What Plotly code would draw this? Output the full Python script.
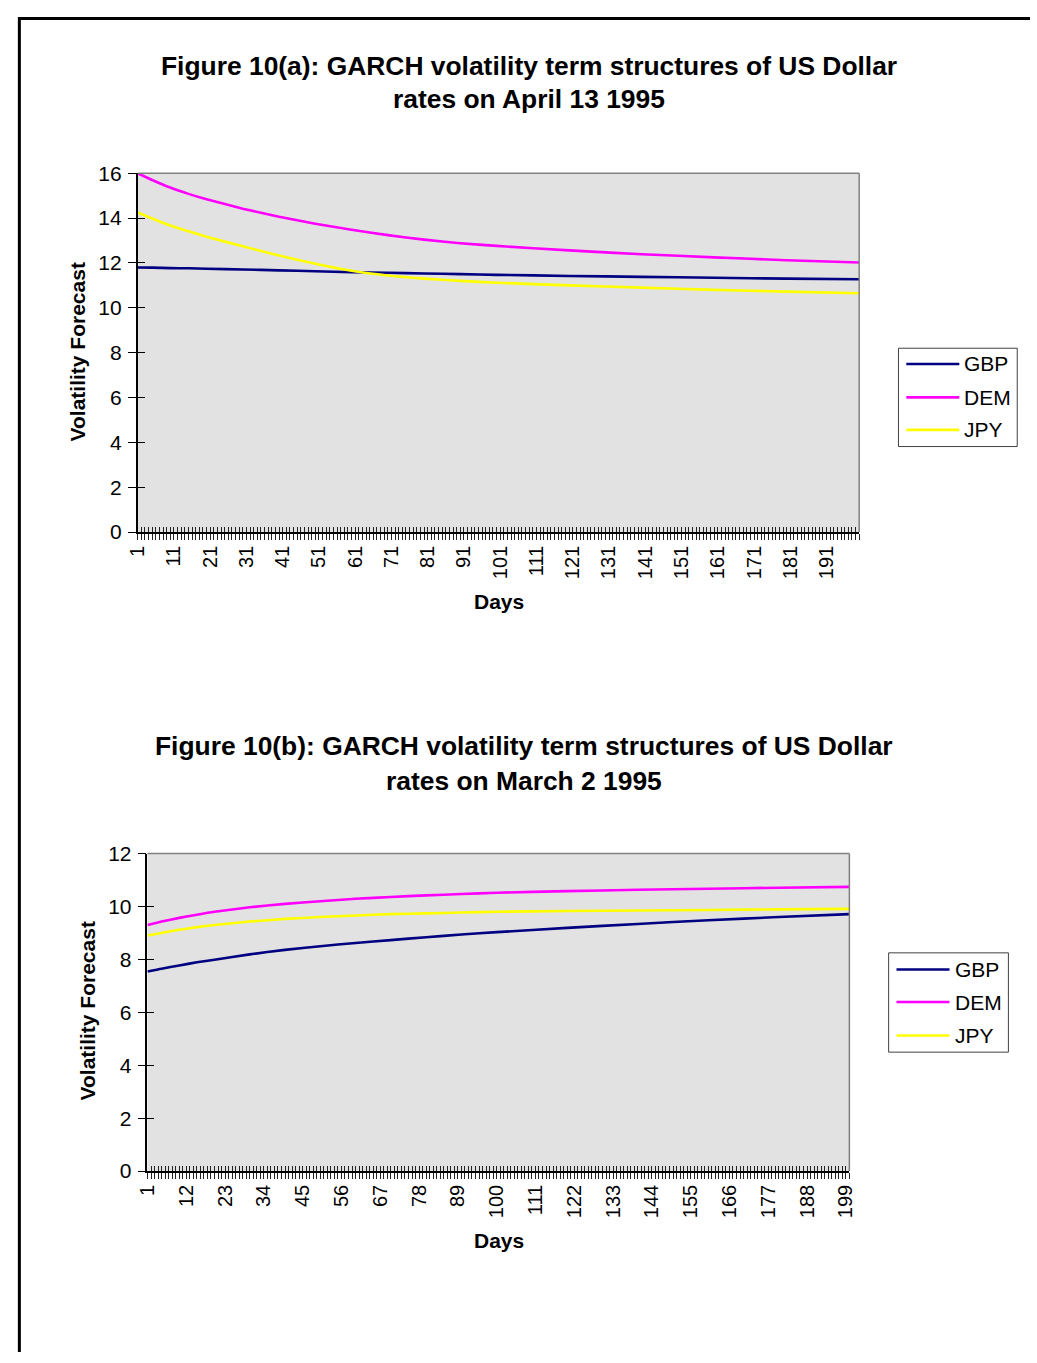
import plotly.graph_objects as go

W, H = 1037, 1363          # picture size

# ---------------- data ----------------
series_names = ["GBP", "DEM", "JPY"]
series_colors = ["#000080", "#FF00FF", "#FFFF00"]

days_a = [1, 5, 10, 15, 20, 30, 40, 50, 60, 70, 80, 90, 100, 120, 140, 160, 180, 200]
gbp_a = [11.80, 11.79, 11.77, 11.76, 11.74, 11.71, 11.67, 11.63, 11.59, 11.56, 11.53, 11.50, 11.47, 11.42, 11.38, 11.34, 11.30, 11.27]
dem_a = [16.00, 15.70, 15.36, 15.08, 14.84, 14.42, 14.06, 13.75, 13.48, 13.24, 13.04, 12.88, 12.76, 12.56, 12.39, 12.25, 12.12, 12.02]
jpy_a = [14.25, 13.98, 13.67, 13.41, 13.17, 12.74, 12.33, 11.96, 11.65, 11.44, 11.30, 11.20, 11.12, 11.00, 10.90, 10.80, 10.72, 10.65]

days_b = [1, 5, 10, 15, 20, 30, 40, 50, 60, 70, 80, 90, 100, 120, 140, 160, 180, 200]
gbp_b = [7.54, 7.65, 7.77, 7.89, 7.99, 8.19, 8.36, 8.50, 8.62, 8.73, 8.84, 8.94, 9.03, 9.19, 9.34, 9.48, 9.60, 9.71]
dem_b = [9.30, 9.43, 9.57, 9.69, 9.80, 9.97, 10.10, 10.20, 10.29, 10.36, 10.42, 10.47, 10.52, 10.58, 10.63, 10.67, 10.71, 10.74]
jpy_b = [8.90, 9.00, 9.12, 9.22, 9.30, 9.43, 9.53, 9.60, 9.66, 9.71, 9.74, 9.77, 9.80, 9.83, 9.85, 9.87, 9.89, 9.91]

all_days = list(range(1, 201))
xlabels_a = ["1", "11", "21", "31", "41", "51", "61", "71", "81", "91", "101", "111",
             "121", "131", "141", "151", "161", "171", "181", "191"]
xlabels_b = ["1", "12", "23", "34", "45", "56", "67", "78", "89", "100", "111", "122",
             "133", "144", "155", "166", "177", "188", "199"]
yticks_a = [0, 2, 4, 6, 8, 10, 12, 14, 16]
yticks_b = [0, 2, 4, 6, 8, 10, 12]

title_a = ["Figure 10(a): GARCH volatility term structures of US Dollar", "rates on April 13 1995"]
title_b = ["Figure 10(b): GARCH volatility term structures of US Dollar", "rates on March 2 1995"]
ytitle = "Volatility Forecast"
xtitle = "Days"

# ---------------- helpers ----------------
FONT = "Liberation Sans, Arial, sans-serif"


def px(x):
    return x / W


def py(y):
    return 1 - y / H


fig = go.Figure()

panels = [
    dict(days=days_a, vals=[gbp_a, dem_a, jpy_a], xa="x", ya="y", xo="x3", yo="y3",
         box=(128, 863, 164, 529), yr=16, yt=yticks_a, xl=xlabels_a,
         title=title_a, tcx=526.5, tcy=(55, 89),
         ytc=(67, 345.5), xtc=(496, 600),
         leg=(903, 1024, 342, 442), legy=(358, 392, 425), legline=(911, 965), legtext=968),
    dict(days=days_b, vals=[gbp_b, dem_b, jpy_b], xa="x2", ya="y2", xo="x4", yo="y4",
         box=(138, 853, 856, 1179), yr=12, yt=yticks_b, xl=xlabels_b,
         title=title_b, tcx=522, tcy=(747, 782),
         ytc=(77, 1016), xtc=(496, 1250),
         leg=(893, 1015, 957, 1058), legy=(974, 1007, 1041), legline=(901, 955), legtext=959),
]

shapes = []
annotations = []
layout_axes = {}

for p in panels:
    for name, vals, color in zip(series_names, p["vals"], series_colors):
        fig.add_trace(go.Scatter(x=p["days"], y=vals, xaxis=p["xa"], yaxis=p["ya"], mode="lines",
                                 name=name, line=dict(color=color, width=2.6, shape="spline", smoothing=0.5),
                                 showlegend=False, hoverinfo="skip"))
    # invisible trace on overlay axes so that inner ticks are drawn
    fig.add_trace(go.Scatter(x=p["days"], y=p["vals"][0], xaxis=p["xo"], yaxis=p["yo"], mode="lines",
                             line=dict(width=0, color="rgba(0,0,0,0)"), showlegend=False, hoverinfo="skip"))

    x0, x1, y0, y1 = p["box"]
    xdom = [px(x0), px(x1)]
    ydom = [py(y1), py(y0)]
    ticktext = [str(d) if str(d) in p["xl"] else "" for d in all_days]
    xkey = "xaxis" + p["xa"][1:]
    ykey = "yaxis" + p["ya"][1:]
    xokey = "xaxis" + p["xo"][1:]
    yokey = "yaxis" + p["yo"][1:]
    layout_axes[xkey] = dict(domain=xdom, anchor=p["ya"], range=[1, 200], tickmode="array",
                             tickvals=all_days, ticktext=ticktext, ticks="outside", ticklen=6,
                             tickwidth=1, tickcolor="#222", showline=True, linecolor="black",
                             linewidth=1.5, showgrid=False, zeroline=False, tickangle=-90,
                             tickfont=dict(family=FONT, size=20, color="black"),
                             ticklabelstandoff=-2, fixedrange=True)
    layout_axes[ykey] = dict(domain=ydom, anchor=p["xa"], range=[0, p["yr"]], tickmode="array",
                             tickvals=p["yt"], ticks="outside", ticklen=8, tickwidth=1,
                             tickcolor="black", showline=True, linecolor="black", linewidth=1.5,
                             showgrid=False, zeroline=False,
                             tickfont=dict(family=FONT, size=21, color="black"),
                             ticklabelstandoff=2, fixedrange=True)
    layout_axes[xokey] = dict(overlaying=p["xa"], anchor=p["yo"], range=[1, 200], tickmode="array",
                              tickvals=all_days, ticks="inside", ticklen=5, tickwidth=1,
                              tickcolor="#222", showticklabels=False, showline=False,
                              showgrid=False, zeroline=False, fixedrange=True)
    layout_axes[yokey] = dict(overlaying=p["ya"], anchor=p["xo"], range=[0, p["yr"]], tickmode="array",
                              tickvals=p["yt"], ticks="inside", ticklen=7, tickwidth=1,
                              tickcolor="black", showticklabels=False, showline=False,
                              showgrid=False, zeroline=False, fixedrange=True)

    # top & right plot-area border (gray)
    shapes.append(dict(type="line", xref="paper", yref="paper", x0=px(x0), x1=px(x1), y0=py(y0), y1=py(y0),
                       line=dict(color="#808080", width=1.5)))
    shapes.append(dict(type="line", xref="paper", yref="paper", x0=px(x1), x1=px(x1), y0=py(y0), y1=py(y1),
                       line=dict(color="#808080", width=1.5)))

    # titles
    for line, yy in zip(p["title"], p["tcy"]):
        annotations.append(dict(xref="paper", yref="paper", x=px(p["tcx"]), y=py(yy), text="<b>%s</b>" % line,
                                showarrow=False, xanchor="center", yanchor="middle",
                                font=dict(family=FONT, size=26.4, color="black")))
    # axis titles
    annotations.append(dict(xref="paper", yref="paper", x=px(p["ytc"][0]), y=py(p["ytc"][1]),
                            text="<b>%s</b>" % ytitle, textangle=-90, showarrow=False,
                            xanchor="center", yanchor="middle",
                            font=dict(family=FONT, size=21, color="black")))
    annotations.append(dict(xref="paper", yref="paper", x=px(p["xtc"][0]), y=py(p["xtc"][1]),
                            text="<b>%s</b>" % xtitle, showarrow=False,
                            xanchor="center", yanchor="middle",
                            font=dict(family=FONT, size=21, color="black")))

    # legend (drawn manually)
    lx0, lx1, ly0, ly1 = p["leg"]
    shapes.append(dict(type="rect", xref="paper", yref="paper", x0=px(lx0), x1=px(lx1), y0=py(ly1), y1=py(ly0),
                       line=dict(color="#404040", width=1), fillcolor="white"))
    for name, color, yy in zip(series_names, series_colors, p["legy"]):
        shapes.append(dict(type="line", xref="paper", yref="paper", x0=px(p["legline"][0]), x1=px(p["legline"][1]),
                           y0=py(yy), y1=py(yy), line=dict(color=color, width=2.6)))
        annotations.append(dict(xref="paper", yref="paper", x=px(p["legtext"]), y=py(yy), text=name,
                                showarrow=False, xanchor="left", yanchor="middle",
                                font=dict(family=FONT, size=21, color="black")))

# outer frame (top and left edges of the scanned page)
shapes.append(dict(type="line", xref="paper", yref="paper", x0=px(6.5), x1=1, y0=py(6.5), y1=py(6.5),
                   line=dict(color="black", width=3)))
shapes.append(dict(type="line", xref="paper", yref="paper", x0=px(7.5), x1=px(7.5), y0=py(5), y1=0,
                   line=dict(color="black", width=3)))

fig.update_layout(
    width=W, height=H,
    margin=dict(l=0, r=0, t=0, b=0),
    paper_bgcolor="white",
    plot_bgcolor="#E2E2E2",
    showlegend=False,
    shapes=shapes,
    annotations=annotations,
    font=dict(family=FONT, color="black"),
    **layout_axes,
)

fig.write_html("out.html")
